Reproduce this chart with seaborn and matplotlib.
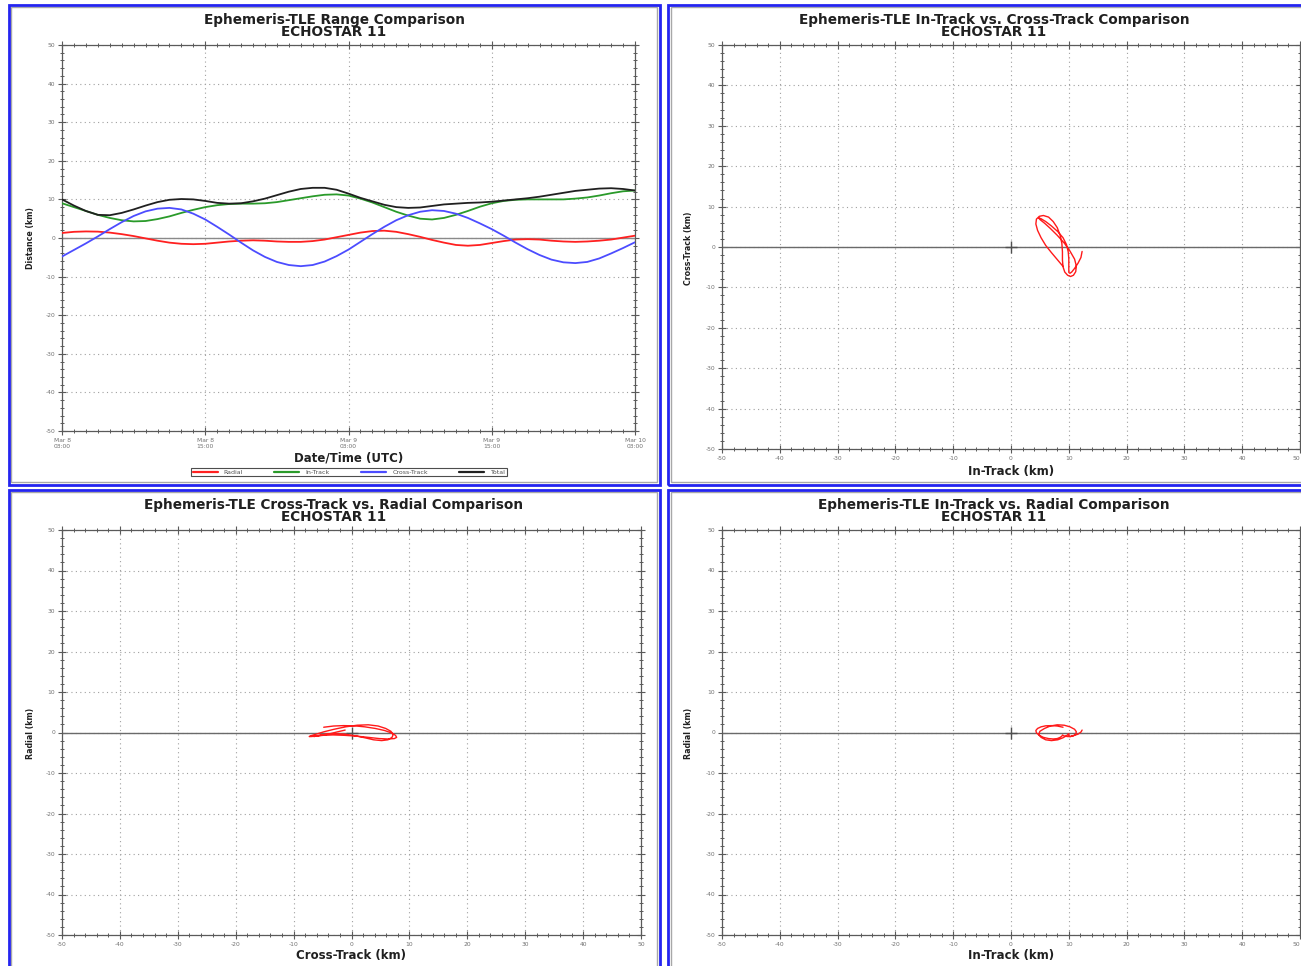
import numpy as np
import pandas as pd
import matplotlib
matplotlib.use("Agg")
import matplotlib.pyplot as plt
import matplotlib.dates as mdates
from matplotlib.ticker import MultipleLocator, FuncFormatter
from matplotlib.patches import Rectangle
import seaborn as sns

# ---------------- data (hourly samples from Mar 8 03:00 UTC) ----------------
start_time = "2024-03-08 03:00"
hours = list(range(49))
radial = [1.3, 1.6, 1.7, 1.65, 1.4, 1.0, 0.5, -0.1, -0.7, -1.2, -1.5, -1.6, -1.5,
          -1.2, -0.9, -0.7, -0.6, -0.7, -0.9, -1.0, -1.0, -0.8, -0.4, 0.2, 0.8,
          1.4, 1.8, 1.9, 1.6, 1.0, 0.3, -0.5, -1.2, -1.8, -2.0, -1.8, -1.3, -0.8,
          -0.4, -0.3, -0.4, -0.7, -0.9, -1.0, -0.9, -0.7, -0.4, 0.1, 0.6]
in_track = [9.0, 8.0, 7.0, 6.0, 5.2, 4.6, 4.3, 4.4, 4.9, 5.6, 6.5, 7.3, 8.0,
            8.5, 8.8, 8.9, 8.9, 9.0, 9.3, 9.8, 10.3, 10.8, 11.2, 11.3, 11.0,
            10.2, 9.2, 8.0, 6.8, 5.8, 5.0, 4.8, 5.2, 6.0, 7.0, 8.1, 9.0, 9.6,
            9.9, 10.0, 10.0, 10.0, 10.0, 10.2, 10.5, 11.0, 11.6, 12.1, 12.3]
cross_track = [-4.8, -3.1, -1.4, 0.4, 2.3, 4.1, 5.7, 6.9, 7.6, 7.8, 7.4, 6.3, 4.8,
               2.9, 0.9, -1.2, -3.2, -4.9, -6.2, -7.0, -7.3, -7.0, -6.1, -4.7, -3.0,
               -1.0, 1.0, 2.9, 4.6, 5.9, 6.8, 7.2, 7.0, 6.3, 5.2, 3.8, 2.3, 0.6,
               -1.2, -2.9, -4.4, -5.6, -6.3, -6.5, -6.2, -5.3, -4.0, -2.6, -1.1]
total = [10.0, 8.4, 7.0, 6.0, 5.9, 6.5, 7.4, 8.4, 9.3, 9.9, 10.1, 10.0, 9.6,
         9.1, 8.9, 9.0, 9.5, 10.2, 11.1, 12.0, 12.7, 13.0, 13.0, 12.5, 11.5,
         10.4, 9.5, 8.6, 8.0, 7.8, 7.9, 8.3, 8.7, 8.9, 9.1, 9.2, 9.4, 9.7,
         10.0, 10.3, 10.7, 11.2, 11.7, 12.2, 12.5, 12.8, 12.9, 12.7, 12.3]
series_names = ["Radial", "In-Track", "Cross-Track", "Total"]
series_colors = ["#ff2020", "#2a9a2a", "#4c4cff", "#202020"]
satellite = "ECHOSTAR 11"
titles = ["Ephemeris-TLE Range Comparison",
          "Ephemeris-TLE In-Track vs. Cross-Track Comparison",
          "Ephemeris-TLE Cross-Track vs. Radial Comparison",
          "Ephemeris-TLE In-Track vs. Radial Comparison"]

# ---------------- setup ----------------
sns.set_theme(style="white")
plt.rcParams['font.family'] = ['DejaVu Sans']
plt.rcParams['axes.unicode_minus'] = False

W, H = 1301, 966
fig = plt.figure(figsize=(W / 100, H / 100), dpi=100)
fig.patch.set_facecolor("white")


def rect(l, t, r, b):
    return [l / W, 1 - b / H, (r - l) / W, (b - t) / H]


def px(x, y):
    return x / W, 1 - y / H


# panel frames
panels = [(8.5, 5, 659.5, 485), (668, 5, 1340, 485), (8.5, 490, 659.5, 1000), (668, 490, 1340, 1000)]
for (l, t, r, b) in panels:
    fig.add_artist(Rectangle(px(l + 2.5, b - 2.5), (r - l - 5) / W, (b - t - 5) / H,
                             transform=fig.transFigure, fill=False, ec="#a8a8a8", lw=1.0, zorder=0))
    fig.add_artist(Rectangle(px(l, b), (r - l) / W, (b - t) / H,
                             transform=fig.transFigure, fill=False, ec="#2424f0", lw=2.0, zorder=0))

# titles
centers = [334, 994, 334, 994]
tops = [20, 20, 505, 505]
for ttl, cx, ty in zip(titles, centers, tops):
    fig.text(*px(cx, ty), ttl, ha="center", va="center", fontsize=9.8, fontweight="bold", color="#202020")
    fig.text(*px(cx, ty + 12), satellite, ha="center", va="center", fontsize=9.8, fontweight="bold", color="#202020")


def style_ax(ax):
    ax.set_facecolor("white")
    for s in ax.spines.values():
        s.set_visible(True)
        s.set_color("#5a5a5a")
        s.set_linewidth(0.9)
    ax.tick_params(which="major", direction="inout", length=6, width=0.8, color="#5a5a5a",
                   labelsize=4.3, labelcolor="#707070", top=True, right=True, bottom=True, left=True, pad=2)
    ax.tick_params(which="minor", direction="inout", length=3.5, width=0.7, color="#5a5a5a",
                   top=True, right=True, bottom=True, left=True)
    ax.grid(True, which="major", linestyle=(0, (1, 3)), color="#a0a0a0", linewidth=0.8)
    ax.grid(False, which="minor")
    ax.set_ylim(-50, 50)
    ax.set_yticks(range(-50, 51, 10))
    ax.yaxis.set_minor_locator(MultipleLocator(2))
    ax.set_axisbelow(True)


def set_labels(ax, xlabel, ylabel, ax_px, xl_y, yl_x, yl_y):
    l, t, r, b = ax_px
    ax.set_xlabel(xlabel, fontsize=8.5, fontweight="bold", color="#202020")
    ax.set_ylabel(ylabel, fontsize=5.7, fontweight="bold", color="#202020")
    ax.xaxis.set_label_coords(((l + r) / 2 - l) / (r - l), -(xl_y - b) / (b - t))
    ax.xaxis.label.set_va("center")
    ax.yaxis.set_label_coords((yl_x - l) / (r - l), (b - yl_y) / (b - t))
    ax.yaxis.label.set_va("center")


# ---------------- top-left: time series ----------------
tl_px = (62, 45, 635, 431)
ax1 = fig.add_axes(rect(*tl_px))
times = pd.Timestamp(start_time) + pd.to_timedelta(hours, unit="h")
df = pd.DataFrame({
    "time": np.tile(times, 4),
    "value": radial + in_track + cross_track + total,
    "series": np.repeat(series_names, len(hours)),
})
ax1.axhline(0, color="#8a8a8a", lw=1.0, zorder=1)
sns.lineplot(data=df, x="time", y="value", hue="series", hue_order=series_names,
             palette=series_colors, linewidth=1.3, ax=ax1, legend=False, zorder=3)
style_ax(ax1)
ax1.set_xlim(times[0], times[-1])
ax1.xaxis.set_major_locator(mdates.HourLocator(byhour=[3, 15]))
ax1.xaxis.set_minor_locator(mdates.HourLocator())


def date_fmt(x, pos):
    d = mdates.num2date(x)
    return f"{d:%b} {d.day}\n{d:%H:%M}"


ax1.xaxis.set_major_formatter(FuncFormatter(date_fmt))
set_labels(ax1, "Date/Time (UTC)", "Distance (km)", tl_px, 458, 30, 238)

handles = [plt.Line2D([], [], color=c, lw=1.6) for c in series_colors]
leg = fig.legend(handles, series_names, loc="center", bbox_to_anchor=px(349, 472), ncol=4,
                 fontsize=4.5, frameon=True, fancybox=False, edgecolor="#202020",
                 handlelength=4.0, columnspacing=5.0, handletextpad=1.0,
                 borderpad=0.25, borderaxespad=0)
leg.get_frame().set_linewidth(0.8)
for txt in leg.get_texts():
    txt.set_color("#505050")


# ---------------- parametric panels ----------------
def param_panel(ax_px, xs, ys, xlabel, ylabel, xl_y, yl_x, yl_y, clip_right=False):
    ax = fig.add_axes(rect(*ax_px))
    ax.axhline(0, color="#6a6a6a", lw=1.0, zorder=1)
    sns.lineplot(x=xs, y=ys, sort=False, estimator=None, color="#ff1a1a", linewidth=1.0, ax=ax, zorder=3)
    ax.plot([0], [0], marker="+", ms=8, mew=1.0, color="#505050", zorder=2)
    style_ax(ax)
    ax.set_xlim(-50, 50)
    ax.set_xticks(range(-50, 51, 10))
    ax.xaxis.set_minor_locator(MultipleLocator(2))
    set_labels(ax, xlabel, ylabel, ax_px, xl_y, yl_x, yl_y)
    if clip_right:
        fig.canvas.draw()
        ax.get_xticklabels()[-1].set_ha("right")
    return ax


param_panel((722, 45, 1300, 449), in_track, cross_track, "In-Track (km)", "Cross-Track (km)", 471, 688, 248, True)
param_panel((62, 530, 641, 935), cross_track, radial, "Cross-Track (km)", "Radial (km)", 956, 30, 733)
param_panel((722, 530, 1300, 935), in_track, radial, "In-Track (km)", "Radial (km)", 956, 688, 733, True)

fig.savefig("out.png", dpi=100, facecolor="white")
